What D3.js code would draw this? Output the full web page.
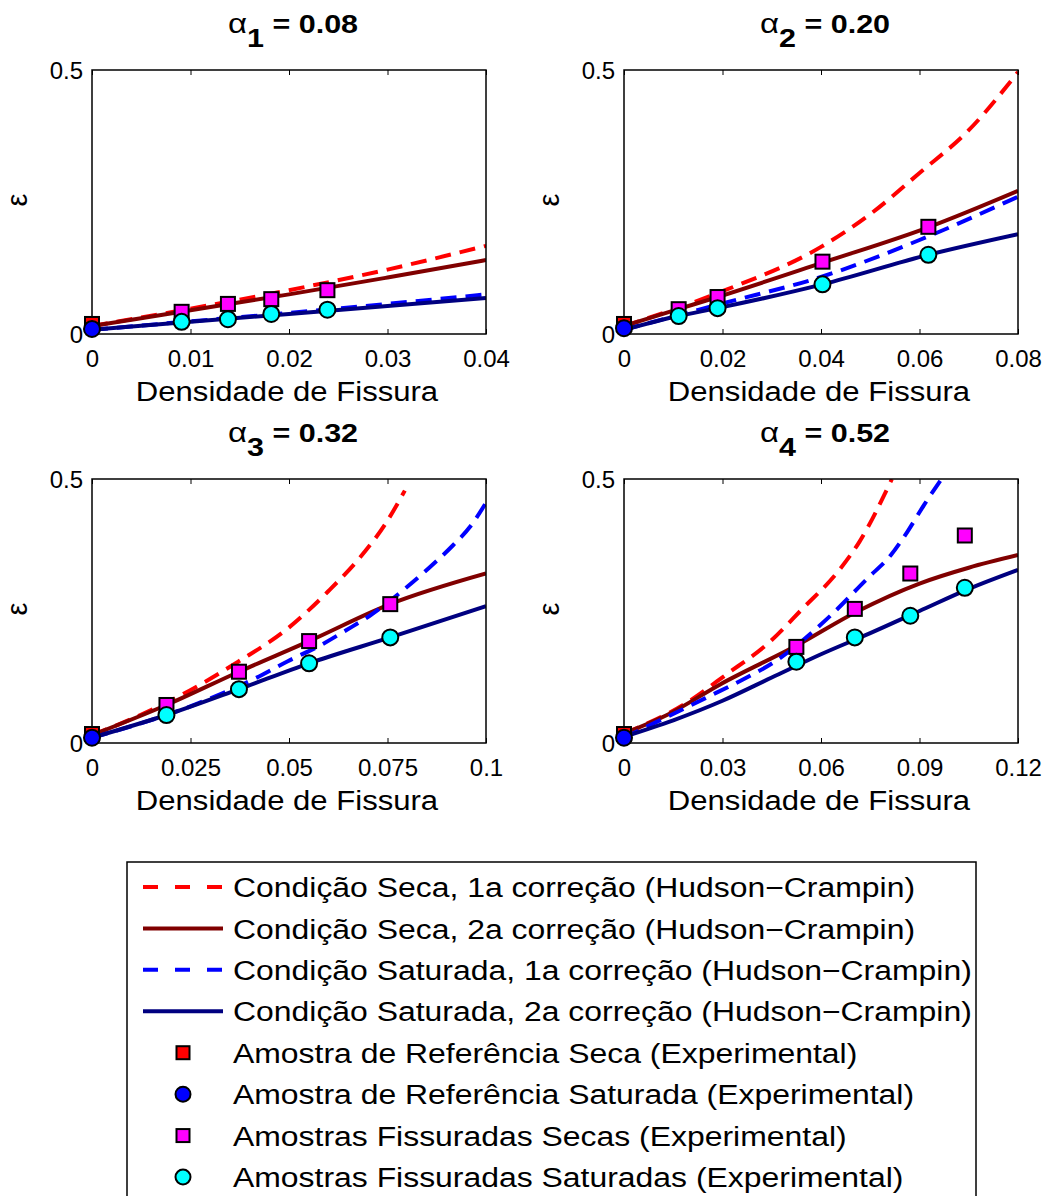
<!DOCTYPE html>
<html>
<head>
<meta charset="utf-8">
<script src="https://cdn.jsdelivr.net/npm/d3@7"></script>
<style>
  body { margin: 0; background: #fff; }
  svg { font-family: "Liberation Sans", Arial, sans-serif; }
</style>
</head>
<body>
<svg id="chart" width="1061" height="1196"></svg>
<script>
// panel info
var alphaIdx = ['1', '2', '3', '4'];
var alphaVal = ['0.08', '0.20', '0.32', '0.52'];
var xMax = [0.04, 0.08, 0.1, 0.12];
var xTicks = [
	[0, 0.01, 0.02, 0.03, 0.04],
	[0, 0.02, 0.04, 0.06, 0.08],
	[0, 0.025, 0.05, 0.075, 0.1],
	[0, 0.03, 0.06, 0.09, 0.12]
];
var yTicks = [0, 0.5];

// Hudson-Crampin curves, [x, epsilon] per panel
var secaHC1 = [
	[[0, 0.015], [0.01, 0.048], [0.02, 0.083], [0.03, 0.122], [0.04, 0.167]],
	[[0, 0.015], [0.02, 0.081], [0.04, 0.165], [0.05, 0.227], [0.06, 0.305], [0.07, 0.386], [0.08, 0.496]],
	[[0, 0.015], [0.0114, 0.05], [0.0227, 0.091], [0.0371, 0.154], [0.0497, 0.217], [0.0599, 0.287], [0.0692, 0.362], [0.0743, 0.413], [0.0794, 0.478]],
	[[0, 0.018], [0.018, 0.072], [0.031, 0.129], [0.045, 0.195], [0.054, 0.252], [0.0656, 0.328], [0.0717, 0.381], [0.0816, 0.5]]
];
var secaHC2 = [
	[[0, 0.015], [0.01, 0.045], [0.02, 0.075], [0.03, 0.107], [0.04, 0.14]],
	[[0, 0.015], [0.011, 0.047], [0.019, 0.07], [0.0403, 0.135], [0.0618, 0.202], [0.08, 0.271]],
	[[0, 0.015], [0.0189, 0.072], [0.0373, 0.135], [0.0551, 0.193], [0.0757, 0.263], [0.1, 0.321]],
	[[0, 0.018], [0.014, 0.056], [0.029, 0.11], [0.053, 0.186], [0.071, 0.249], [0.09, 0.302], [0.105, 0.332], [0.12, 0.356]]
];
var satHC1 = [
	[[0, 0.008], [0.01, 0.024], [0.02, 0.04], [0.03, 0.057], [0.04, 0.075]],
	[[0, 0.008], [0.02, 0.058], [0.04, 0.108], [0.06, 0.178], [0.08, 0.26]],
	[[0, 0.01], [0.0269, 0.075], [0.0413, 0.122], [0.0497, 0.155], [0.0582, 0.186], [0.0646, 0.214], [0.0705, 0.241], [0.0794, 0.292], [0.0853, 0.33], [0.0917, 0.375], [0.096, 0.41], [0.1, 0.455]],
	[[0, 0.01], [0.0248, 0.085], [0.0358, 0.119], [0.0459, 0.154], [0.062, 0.236], [0.0742, 0.312], [0.0813, 0.356], [0.0863, 0.4], [0.0914, 0.451], [0.0967, 0.5]]
];
var satHC2 = [
	[[0, 0.008], [0.01, 0.023], [0.02, 0.038], [0.03, 0.053], [0.04, 0.068]],
	[[0, 0.008], [0.011, 0.034], [0.019, 0.049], [0.0403, 0.094], [0.0618, 0.15], [0.08, 0.189]],
	[[0, 0.01], [0.0189, 0.053], [0.0373, 0.102], [0.0551, 0.151], [0.0757, 0.2], [0.1, 0.259]],
	[[0, 0.012], [0.015, 0.043], [0.03, 0.08], [0.045, 0.124], [0.06, 0.168], [0.075, 0.208], [0.09, 0.25], [0.105, 0.292], [0.12, 0.328]]
];

// experimental samples
var refSeca = [0.019, 0.019, 0.017, 0.017];
var refSat = [0.0095, 0.011, 0.01, 0.01];
var fissX = [
	[0.0091, 0.0138, 0.0182, 0.0239],
	[0.0111, 0.019, 0.0403, 0.0618],
	[0.0189, 0.0373, 0.0551, 0.0757],
	[0.0525, 0.0703, 0.0872, 0.1038]
];
var fissSeca = [
	[0.042, 0.057, 0.066, 0.083],
	[0.047, 0.07, 0.137, 0.203],
	[0.072, 0.135, 0.193, 0.263],
	[0.182, 0.254, 0.321, 0.393]
];
var fissSat = [
	[0.023, 0.028, 0.038, 0.046],
	[0.034, 0.049, 0.094, 0.15],
	[0.053, 0.102, 0.151, 0.2],
	[0.154, 0.2, 0.241, 0.294]
];

var legendLabels = [
	'Condição Seca, 1a correção (Hudson\u2212Crampin)',
	'Condição Seca, 2a correção (Hudson\u2212Crampin)',
	'Condição Saturada, 1a correção (Hudson\u2212Crampin)',
	'Condição Saturada, 2a correção (Hudson\u2212Crampin)',
	'Amostra de Referência Seca (Experimental)',
	'Amostra de Referência Saturada (Experimental)',
	'Amostras Fissuradas Secas (Experimental)',
	'Amostras Fissuradas Saturadas (Experimental)'
];

var svg = d3.select('#chart');
var lefts = [92, 624, 92, 624],
	tops = [70, 70, 479, 479],
	pw = 394, ph = 264;

var lineStyles = [
	{data: secaHC1, color: '#ff0000', dash: '16,9'},
	{data: secaHC2, color: '#800000', dash: null},
	{data: satHC1, color: '#0000ff', dash: '16,9'},
	{data: satHC2, color: '#000080', dash: null}
];

// text a bit wider than the font, as in the original figure
function wideText(g, x, y, sx, size) {
	return g.append('text')
		.attr('transform', 'translate(' + x + ',' + y + ') scale(' + sx + ',1)')
		.attr('font-size', size);
}
function square(g, x, y, s, fill) {
	g.append('rect')
		.attr('x', x - s / 2).attr('y', y - s / 2)
		.attr('width', s).attr('height', s)
		.attr('fill', fill).attr('stroke', '#000').attr('stroke-width', 2);
}
function circle(g, x, y, r, fill) {
	g.append('circle')
		.attr('cx', x).attr('cy', y).attr('r', r)
		.attr('fill', fill).attr('stroke', '#000').attr('stroke-width', 2);
}

for (var i = 0; i < 4; i++) {
	var L = lefts[i], T = tops[i];
	var x = d3.scaleLinear().domain([0, xMax[i]]).range([L, L + pw]);
	var y = d3.scaleLinear().domain([0, 0.5]).range([T + ph, T]);

	svg.append('clipPath').attr('id', 'clip' + i)
		.append('rect').attr('x', L).attr('y', T).attr('width', pw).attr('height', ph);

	// curves
	var line = d3.line().x(function(d) { return x(d[0]); }).y(function(d) { return y(d[1]); })
		.curve(d3.curveMonotoneX);
	var cg = svg.append('g').attr('clip-path', 'url(#clip' + i + ')');
	lineStyles.forEach(function(s) {
		cg.append('path')
			.attr('d', line(s.data[i]))
			.attr('fill', 'none')
			.attr('stroke', s.color)
			.attr('stroke-width', 4)
			.attr('stroke-dasharray', s.dash);
	});

	// frame and ticks
	svg.append('rect').attr('x', L).attr('y', T).attr('width', pw).attr('height', ph)
		.attr('fill', 'none').attr('stroke', '#000').attr('stroke-width', 1.5);
	var xAxis = svg.append('g').attr('transform', 'translate(0,' + (T + ph) + ')')
		.call(d3.axisBottom(x).tickValues(xTicks[i]).tickSize(-5).tickFormat(function(d) { return String(d); }));
	xAxis.select('.domain').remove();
	xAxis.selectAll('text').attr('dy', null).attr('y', 33).attr('font-size', 24).attr('font-family', null).attr('fill', '#000');
	xAxis.selectAll('line').attr('stroke-width', 1);
	var xTop = svg.append('g').attr('transform', 'translate(0,' + T + ')')
		.call(d3.axisTop(x).tickValues(xTicks[i]).tickSize(-5).tickFormat(''));
	xTop.select('.domain').remove();

	var yAxis = svg.append('g').attr('transform', 'translate(' + L + ',0)')
		.call(d3.axisLeft(y).tickValues(yTicks).tickSize(0).tickPadding(9).tickFormat(function(d) { return String(d); }));
	yAxis.select('.domain').remove();
	yAxis.selectAll('text').attr('dy', '0.36em').attr('font-size', 24).attr('font-family', null).attr('fill', '#000');

	// labels
	wideText(svg, L + pw / 2 - 2, T + ph + 67, 1.11, 28)
		.attr('text-anchor', 'middle').text('Densidade de Fissura');
	svg.append('text')
		.attr('transform', 'translate(' + (L - 65) + ',' + (T + ph / 2 - 2) + ') rotate(-90)')
		.attr('text-anchor', 'middle').attr('font-size', 29).text('\u03b5');

	var title = wideText(svg, L + pw / 2 + 4, T - 37, 1.22, 25)
		.attr('text-anchor', 'middle').attr('font-weight', 'bold');
	title.append('tspan').attr('font-weight', 'normal').attr('font-size', 27).text('\u03b1');
	title.append('tspan').attr('dy', 14).text(alphaIdx[i]);
	title.append('tspan').attr('dy', -14).text(' = ' + alphaVal[i]);

	// markers
	var mg = svg.append('g');
	square(mg, x(0), y(refSeca[i]), 14, '#ff0000');
	circle(mg, x(0), y(refSat[i]), 8, '#0000ff');
	fissX[i].forEach(function(v, k) { square(mg, x(v), y(fissSeca[i][k]), 14, '#ff00ff'); });
	fissX[i].forEach(function(v, k) { circle(mg, x(v), y(fissSat[i][k]), 8, '#00ffff'); });
}

// legend
var lg = svg.append('g');
lg.append('rect').attr('x', 127).attr('y', 862).attr('width', 849).attr('height', 360)
	.attr('fill', '#fff').attr('stroke', '#000').attr('stroke-width', 1.5);
var rowY = d3.scaleLinear().domain([0, 7]).range([887, 1177]);
legendLabels.forEach(function(t, k) {
	var yy = rowY(k);
	if (k < 4) {
		lg.append('line').attr('x1', 143).attr('x2', 223).attr('y1', yy).attr('y2', yy)
			.attr('stroke', lineStyles[k].color).attr('stroke-width', 4)
			.attr('stroke-dasharray', k % 2 === 0 ? '15,17' : null);
	} else if (k === 4) {
		square(lg, 183, yy, 13, '#ff0000');
	} else if (k === 5) {
		circle(lg, 183, yy, 7.5, '#0000ff');
	} else if (k === 6) {
		square(lg, 183, yy, 13, '#ff00ff');
	} else {
		circle(lg, 183, yy, 7.5, '#00ffff');
	}
	wideText(lg, 233, yy, 1.14, 28).attr('dy', '0.36em').text(t);
});
</script>
</body>
</html>
